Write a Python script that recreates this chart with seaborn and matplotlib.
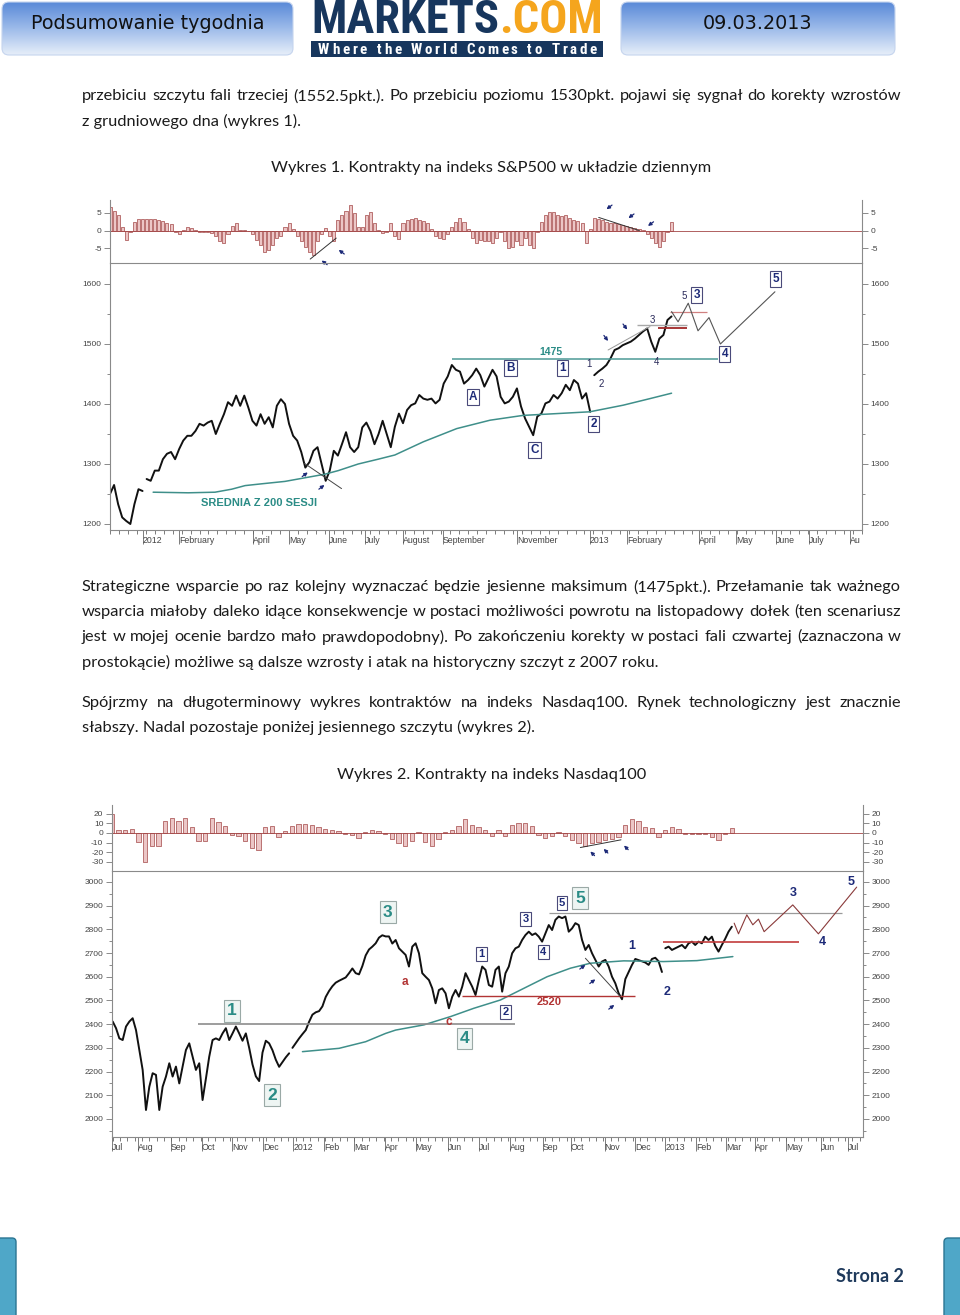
import numpy as np
import pandas as pd
import matplotlib
matplotlib.use('Agg')
import matplotlib.pyplot as plt
import seaborn as sns
from matplotlib.patches import FancyBboxPatch, Rectangle
from matplotlib.colors import LinearSegmentedColormap
from matplotlib.ticker import MultipleLocator
from matplotlib.transforms import ScaledTranslation

# ---------------- Wykres 1: S&P500 (dziennie, co ~2 sesje) ----------------
spx_close = [1250, 1265, 1233, 1211, 1205, 1200, 1233, 1258, 1255, 1275,
             1272, 1289, 1289, 1308, 1317, 1320, 1308, 1325, 1339, 1347,
             1347, 1355, 1367, 1364, 1369, 1372, 1350, 1367, 1383, 1403,
             1397, 1414, 1397, 1414, 1394, 1372, 1364, 1383, 1367, 1378,
             1361, 1397, 1408, 1400, 1367, 1347, 1339, 1320, 1294, 1303,
             1322, 1328, 1300, 1272, 1289, 1322, 1314, 1333, 1353, 1328,
             1320, 1328, 1361, 1369, 1355, 1333, 1350, 1372, 1350, 1328,
             1362, 1384, 1368, 1390, 1398, 1401, 1415, 1409, 1407, 1409,
             1401, 1407, 1434, 1446, 1465, 1457, 1454, 1434, 1440, 1448,
             1459, 1448, 1429, 1443, 1457, 1446, 1412, 1401, 1404, 1412,
             1426, 1396, 1376, 1362, 1348, 1379, 1384, 1401, 1404, 1415,
             1409, 1418, 1432, 1423, 1440, 1434, 1409, 1418, 1387, 1448,
             1454, 1459, 1465, 1476, 1490, 1493, 1498, 1501, 1504, 1509,
             1515, 1521, 1526, 1504, 1487, 1509, 1515, 1540, 1546]
spx_osc = [6.5, 5.5, 4.5, 1.0, -2.5, -0.5, 2.5, 3.2, 3.4, 3.4,
           3.3, 3.2, 3.0, 2.6, 2.2, 1.8, -0.4, -1.0, 0.3, 1.0,
           0.8, 0.1, -0.3, -0.5, -0.4, -0.8, -1.5, -3.0, -3.5, -1.0,
           1.2, 2.0, 0.3, 0.2, -0.2, -1.0, -2.5, -4.0, -6.0, -5.5,
           -4.0, -2.0, -1.5, 1.0, 2.2, 0.5, -1.5, -3.0, -4.5, -6.0,
           -6.8, -3.0, -1.0, 0.8, -1.5, -3.0, 3.0, 4.3, 5.5, 7.2,
           5.0, 1.0, 1.0, 4.5, 5.3, 2.0, 0.1, -0.6, -0.4, 2.0,
           -1.5, -2.4, 2.0, 3.0, 3.4, 3.5, 3.0, 2.8, 2.0, 0.5,
           -1.5, -2.0, -2.4, -1.0, 1.0, 2.5, 3.5, 2.5, 0.5, -2.0,
           -3.5, -2.5, -2.8, -3.0, -3.5, -2.0, -0.5, -3.0, -5.0, -4.5,
           -3.0, -4.0, -2.0, -4.0, -5.0, -0.5, 2.5, 4.5, 5.3, 5.3,
           4.5, 4.0, 4.3, 3.5, 3.0, 2.8, 2.0, -3.4, 0.5, 3.5,
           3.3, 3.0, 2.5, 2.2, 2.0, 1.8, 1.5, 1.3, 1.0, 0.8,
           0.5, 0.3, -1.0, -2.0, -3.5, -4.5, -3.0, -0.5, 2.5]
spx_gaps = [8, 118]
spx_ma_x = [10.6, 19.2, 25.8, 29.9, 33.2, 37.3, 43, 47.9, 52.8, 56.1, 61, 65.9,
            70, 77, 85.2, 93.4, 101.5, 109.8, 117.9, 126.1, 132.7, 138]
spx_ma = [1253, 1252, 1253, 1258, 1264, 1267, 1271, 1277, 1283, 1289, 1300, 1308,
          1315, 1337, 1359, 1373, 1381, 1384, 1387, 1398, 1409, 1418]
spx_months = ['2012', 'February', 'April', 'May', 'June', 'July', 'August', 'September',
              'November', '2013', 'February', 'April', 'May', 'June', 'July', 'Au']
spx_month_pos = [8.1, 17, 35.1, 44, 53.8, 62.7, 72, 81.8, 100, 117.9, 127, 144.7,
                 153.8, 163.6, 171.7, 181.8]
spx_proj_x = [138, 139.6, 142.1, 144.5, 147.2, 150, 163.4]
spx_proj = [1554, 1537, 1568, 1522, 1544, 1500, 1587]

# ---------------- Wykres 2: Nasdaq100 ----------------
ndx_close = [2411, 2383, 2340, 2333, 2390, 2411, 2425, 2375, 2291, 2207,
             2038, 2136, 2193, 2186, 2038, 2136, 2179, 2235, 2179, 2221,
             2150, 2221, 2291, 2319, 2263, 2207, 2235, 2080, 2170, 2263,
             2333, 2340, 2333, 2361, 2383, 2333, 2361, 2390, 2361, 2330,
             2361, 2300, 2230, 2180, 2160, 2280, 2330, 2319, 2290, 2250,
             2220, 2240, 2260, 2277, 2300, 2320, 2340, 2358, 2375, 2410,
             2440, 2450, 2455, 2475, 2515, 2540, 2560, 2575, 2583, 2590,
             2597, 2615, 2635, 2615, 2610, 2645, 2690, 2715, 2727, 2741,
             2765, 2775, 2770, 2770, 2740,
             2755, 2720, 2706, 2692, 2643, 2727, 2741, 2699, 2615, 2600,
             2586, 2551, 2488, 2544, 2551, 2530, 2467, 2516, 2544, 2516,
             2558, 2615, 2586, 2558, 2523, 2586, 2643, 2629, 2565, 2558,
             2629, 2643, 2537, 2615, 2643, 2699, 2720, 2727, 2755, 2776,
             2790, 2776, 2783, 2769, 2748, 2783, 2818, 2797, 2840, 2854,
             2847, 2854, 2790, 2804, 2826, 2818, 2755, 2713, 2734, 2699,
             2671, 2643, 2664, 2671, 2643, 2600, 2572, 2530, 2505, 2590,
             2620, 2650, 2675, 2670, 2665, 2660, 2650, 2675, 2680, 2665,
             2620, 2720, 2727, 2713, 2720, 2727, 2734, 2720, 2741, 2748,
             2734, 2748, 2741, 2769, 2755, 2769, 2730, 2706, 2734, 2760,
             2790, 2811]
ndx_osc = [20, 3, 3, 4, -9, -30, -14, -14, 12, 16,
           12, 15, 6, -8, -8, 15, 11, 7, -2, -3,
           -8, -16, -18, 6, 7, -4, 2, 7, 9, 9.5,
           8.5, 6, 4, 3, 2, -1, -2, -5, 1, 3,
           2, -1, -6, -11, -14, -8, 1, -9, -14, -6,
           1, 3, 7, 14, 8, 6, 3, -3, 3, -3,
           8, 10, 10, 7, -2, -5, -3, 1, -3, -7,
           -11, -14, -11, -9, -7, -6, -4, 8, 14, 12,
           6, 5, -4, 3, 6.5, 4, -1, -1.5, -1.5, -1,
           -4, -7, -1, 5]
ndx_gaps = [53, 165]
ndx_ma_x = [57, 68, 76, 82, 85, 93.5, 101.5, 108.5, 116.5, 123.5, 130.5, 137.5,
            143.5, 153.5, 165.5, 175.5, 186.3]
ndx_ma = [2284, 2298, 2326, 2361, 2375, 2397, 2432, 2467, 2502, 2551, 2600, 2636,
          2657, 2667, 2664, 2668, 2685]
ndx_months = ['Jul', 'Aug', 'Sep', 'Oct', 'Nov', 'Dec', '2012', 'Feb', 'Mar', 'Apr', 'May',
              'Jun', 'Jul', 'Aug', 'Sep', 'Oct', 'Nov', 'Dec', '2013', 'Feb', 'Mar', 'Apr',
              'May', 'Jun', 'Jul']
ndx_month_pos = [-0.3, 7.5, 17.5, 26.8, 35.8, 45.3, 54.2, 63.5, 72.5, 81.8, 91, 100.8,
                 110, 119.3, 129.3, 137.7, 147.8, 157, 166, 175.2, 184.2, 193, 202.3,
                 212.7, 221]
ndx_proj_x = [186.7, 188, 190.5, 192.3, 194, 195.7, 204.3, 212, 223.5]
ndx_proj = [2826, 2781, 2861, 2819, 2843, 2790, 2903, 2781, 2978]

# ---------------- tekst strony ----------------
para1 = [("przebiciu szczytu fali trzeciej (1552.5pkt.). Po przebiciu poziomu 1530pkt. "
          "pojawi się sygnał do korekty wzrostów", True),
         ("z grudniowego dna (wykres 1).", False)]
caption1 = "Wykres 1. Kontrakty na indeks S&P500 w układzie dziennym"
para2 = [("Strategiczne wsparcie po raz kolejny wyznaczać będzie jesienne maksimum (1475pkt.). "
          "Przełamanie tak ważnego", True),
         ("wsparcia miałoby daleko idące konsekwencje w postaci możliwości powrotu na "
          "listopadowy dołek (ten scenariusz", True),
         ("jest w mojej ocenie bardzo mało prawdopodobny). Po zakończeniu korekty w postaci "
          "fali czwartej (zaznaczona w", True),
         ("prostokącie) możliwe są dalsze wzrosty i atak na historyczny szczyt z 2007 roku.", False)]
para3 = [("Spójrzmy na długoterminowy wykres kontraktów na indeks Nasdaq100. Rynek "
          "technologiczny jest znacznie", True),
         ("słabszy. Nadal pozostaje poniżej jesiennego szczytu (wykres 2).", False)]
caption2 = "Wykres 2. Kontrakty na indeks Nasdaq100"

sns.set_theme(style='white')
plt.rcParams['font.family'] = ['Liberation Sans', 'DejaVu Sans']

W, H = 960, 1315
fig = plt.figure(figsize=(W / 100, H / 100), dpi=100)
page = fig.add_axes([0, 0, 1, 1], zorder=0)
page.set_xlim(0, W)
page.set_ylim(H, 0)
page.axis('off')
renderer = fig.canvas.get_renderer()

NAVY = '#1d2a78'
TEAL = '#2b8c86'
RED = '#b23434'
BODY = dict(fontsize=11.8, color='#1b1b1b', va='center', ha='left', family=['Lato', 'DejaVu Sans'])


def area(l, t, r, b):
    return [l / W, 1 - b / H, (r - l) / W, (b - t) / H]


def width_of(t):
    return t.get_window_extent(renderer=renderer).width


def fit_width(t, target):
    t.set_fontsize(t.get_fontsize() * target / width_of(t))


def spread(words, y, x0, x1, space=0.0, **kw):
    # rozklada elementy rowno miedzy x0 i x1; ' ' to stala przerwa `space`
    objs = [None if w == ' ' else page.text(0, y, w, **kw) for w in words]
    widths = [space if o is None else width_of(o) for o in objs]
    gap = (x1 - x0 - sum(widths)) / (len(words) - 1)
    x = x0
    for o, w in zip(objs, widths):
        if o is not None:
            o.set_x(x)
        x += w + gap


def grad_box(x0, y0, x1, y1):
    patch = FancyBboxPatch((x0, y0), x1 - x0, y1 - y0, boxstyle='round,pad=0,rounding_size=7',
                           fc='none', ec='#c5d4ee', lw=0.8, zorder=2)
    page.add_patch(patch)
    cmap = LinearSegmentedColormap.from_list('hdr', ['#5a8ad8', '#9dbbea', '#e6eef9'])
    im = page.imshow(np.linspace(0, 1, 64).reshape(-1, 1), extent=(x0, x1, y1, y0),
                     cmap=cmap, aspect='auto', zorder=1)
    im.set_clip_path(patch)


# ---- naglowek ----
grad_box(2, 2, 293, 55)
grad_box(621, 2, 895, 55)
page.set_xlim(0, W)
page.set_ylim(H, 0)
page.text(148, 23, 'Podsumowanie tygodnia', fontsize=13.8, color='#111', ha='center',
          va='center', family='DejaVu Sans', zorder=3)
page.text(758, 23, '09.03.2013', fontsize=13.8, color='#111', ha='center', va='center',
          family='DejaVu Sans', zorder=3)
logo_font = ['Roboto Condensed', 'DejaVu Sans Condensed', 'Liberation Sans Narrow',
             'Liberation Sans']
probe = page.text(0, -100, 'MARKETS.COM', fontsize=36, fontweight='bold', family=logo_font)
fit_width(probe, 292)
logo_fs = probe.get_fontsize()
probe.remove()
mk = page.text(311, 20, 'MARKETS', fontsize=logo_fs, fontweight='bold', color='#17365d',
               ha='left', va='center', family=logo_font, zorder=3)
page.text(311 + width_of(mk), 20, '.COM', fontsize=logo_fs, fontweight='bold',
          color='#f5a51d', ha='left', va='center', family=logo_font, zorder=3)
page.add_patch(Rectangle((311, 41), 292, 16, fc='#17365d', ec='none', zorder=2))
spread(list('Where the World Comes to Trade'), 49.5, 318, 597, space=4.0, fontsize=10.8,
       fontweight='bold', color='white', ha='left', va='center', family=logo_font, zorder=3)


# ---- tekst ----
def write_line(y, line, justify, x0=82, x1=901):
    if justify:
        spread(line.split(), y, x0, x1, **BODY)
    else:
        page.text(x0, y, line, **BODY)


for (line, just), y in zip(para1, [96, 121]):
    write_line(y, line, just)
page.text(491.5, 168, caption1, **{**BODY, 'ha': 'center'})
for (line, just), y in zip(para2, [587, 612, 637, 662]):
    write_line(y, line, just)
for (line, just), y in zip(para3, [703, 727]):
    write_line(y, line, just)
page.text(491.5, 775, caption2, **{**BODY, 'ha': 'center'})

# ---- stopka ----
for x0 in (-6, 944):
    page.add_patch(FancyBboxPatch((x0, 1238), 22, 90, boxstyle='round,pad=0,rounding_size=4',
                                  fc='#4fa7c8', ec='#2b7592', lw=1.0, zorder=2))
page.text(870, 1276, 'Strona 2', fontsize=13, fontweight='bold', color='#1f3a5c', ha='center',
          va='center', family=['Lato', 'DejaVu Sans'])


# ---- funkcje wykresow ----
def style_y(ax, ticks, minor):
    ax.set_yticks(ticks)
    ax.set_yticklabels([f'{t:g}' for t in ticks])
    if minor:
        ax.yaxis.set_minor_locator(MultipleLocator(minor))
    ax.tick_params(axis='y', which='both', direction='out', left=True, right=True,
                   labelleft=True, labelright=True, labelsize=6, labelcolor='#444',
                   color='#777', width=0.6, pad=2)
    ax.tick_params(axis='y', which='major', length=4)
    ax.tick_params(axis='y', which='minor', length=2)
    ax.set_ylabel('')
    for sp in ax.spines.values():
        sp.set_color('#8a8a8a')
        sp.set_linewidth(0.8)


def price_panel(ax, close, gaps, ma_x, ma, ylim, yticks, xmax, mpos, mlab):
    idx = np.arange(len(close))
    df = pd.DataFrame({'idx': idx, 'close': close, 'seg': np.searchsorted(gaps, idx)})
    sns.lineplot(data=df, x='idx', y='close', units='seg', estimator=None, color='#111111',
                 lw=1.4, ax=ax)
    sns.lineplot(x=ma_x, y=ma, color='#3f8f8a', lw=1.1, ax=ax)
    ax.set_xlim(0, xmax)
    ax.set_ylim(*ylim)
    style_y(ax, yticks, 50)
    ax.set_xticks(mpos)
    ax.set_xticklabels(mlab)
    shift = ScaledTranslation(1.5 / 72, 0, fig.dpi_scale_trans)
    for t in ax.get_xticklabels():
        t.set_ha('left')
        t.set_transform(t.get_transform() + shift)
    ax.xaxis.set_minor_locator(MultipleLocator(2.2))
    ax.tick_params(axis='x', which='both', direction='out', bottom=True, labelsize=6.3,
                   labelcolor='#444', color='#666', width=0.6)
    ax.tick_params(axis='x', which='major', length=10, pad=-6)
    ax.tick_params(axis='x', which='minor', length=3)
    ax.set_xlabel('')
    ax.patch.set_alpha(0)


def osc_panel(ax, x, vals, width, ylim, yticks, xmax):
    ax.bar(x, vals, width=width, color='#ecc6c6', edgecolor='#a34646', linewidth=0.5)
    ax.axhline(0, color='#a34646', lw=0.6)
    ax.set_xlim(0, xmax)
    ax.set_ylim(*ylim)
    ax.set_xticks([])
    style_y(ax, yticks, None)
    ax.spines['top'].set_visible(False)
    ax.spines['bottom'].set_visible(False)
    ax.patch.set_alpha(0)


def arrow(ax, x, y, dx, dy):
    ax.annotate('', xy=(x, y), xytext=(dx, dy), textcoords='offset points',
                arrowprops=dict(arrowstyle='-|>', color=NAVY, lw=0.9, mutation_scale=5,
                                shrinkA=0, shrinkB=0))


def boxed(ax, x, y, s, color=NAVY, size=8.5, fc='white', ec='#4a4a7a'):
    ax.text(x, y, s, color=color, fontsize=size, fontweight='bold', ha='center', va='center',
            bbox=dict(boxstyle='square,pad=0.18', fc=fc, ec=ec, lw=0.8))


# ---- wykres 1 ----
o1 = fig.add_axes(area(110, 200, 862, 263), zorder=2)
m1 = fig.add_axes(area(110, 263, 862, 530), zorder=2)
osc_panel(o1, np.arange(len(spx_osc)), spx_osc, 0.75, (-9.1, 8.6), [-5, 0, 5], 184.8)
price_panel(m1, spx_close, spx_gaps, spx_ma_x, spx_ma, (1190, 1635),
            [1200, 1300, 1400, 1500, 1600], 184.8, spx_month_pos, spx_months)

o1.plot([49.2, 55.6], [-8.0, -2.1], color='#333', lw=0.7)
o1.plot([120.1, 130.1], [3.7, 0.0], color='#333', lw=0.7)
arrow(o1, 52, -8.4, 4, -3)
arrow(o1, 56.2, -5.4, 4, -3)
for xa, ya in [(122, 6.0), (127.4, 3.5), (132.2, 1.3)]:
    arrow(o1, xa, ya, 4, 3)

m1.hlines(1475, 84, 149.4, color='#4d9a96', lw=1.1)
m1.text(108.4, 1487, '1475', color=TEAL, fontsize=7.5, fontweight='bold', ha='center', va='center')
m1.hlines(1532, 129.5, 141.8, color='#a8a8a8', lw=1.0)
m1.hlines(1526, 134.6, 141.8, color='#a02828', lw=1.3)
m1.hlines(1553, 137.6, 146.6, color='#d08080', lw=0.9)
m1.plot(spx_proj_x, spx_proj, color='#555', lw=0.8)
m1.plot([47.8, 56.9], [1301, 1259], color='#444', lw=0.7)
m1.plot([122.4, 132.7], [1490, 1529], color='#999', lw=0.7)
arrow(m1, 48.6, 1286, -4, -3)
arrow(m1, 52.7, 1265, -4, -3)
arrow(m1, 122.4, 1505, -3, 4)
arrow(m1, 127.1, 1524, -3, 4)
m1.text(36.6, 1235, 'SREDNIA Z 200 SESJI', color=TEAL, fontsize=8, fontweight='bold',
        ha='center', va='center')
for s, x, y in [('A', 89.2, 1412), ('B', 98.5, 1460), ('C', 104.4, 1323), ('1', 111.3, 1460),
                ('2', 118.9, 1367), ('3', 144.2, 1582), ('4', 151.1, 1483), ('5', 163.6, 1608)]:
    boxed(m1, x, y, s)
for s, x, y in [('1', 117.7, 1467), ('2', 120.6, 1433), ('3', 133.2, 1540), ('4', 134.4, 1470),
                ('5', 141, 1580)]:
    m1.text(x, y, s, color='#2a2a5a', fontsize=7, ha='center', va='center')

# ---- wykres 2 ----
o2 = fig.add_axes(area(111.7, 805, 863, 871), zorder=2)
m2 = fig.add_axes(area(111.7, 871, 863, 1137), zorder=2)
osc_panel(o2, np.arange(len(ndx_osc)) * 2, ndx_osc, 1.3, (-39.6, 29),
          [-30, -20, -10, 0, 10, 20], 225.4)
price_panel(m2, ndx_close, ndx_gaps, ndx_ma_x, ndx_ma, (1924, 3046),
            list(range(2000, 3001, 100)), 225.4, ndx_month_pos, ndx_months)

o2.plot([140.6, 152.8], [-15.2, -7.2], color='#333', lw=0.7)
for xa, ya in [(143.6, -19.3), (147.6, -16.6), (153.7, -13.1)]:
    arrow(o2, xa, ya, 3, -3)

m2.hlines(2400, 25.5, 121, color='#8c8c8c', lw=1.2)
m2.hlines(2519, 105, 157, color=RED, lw=1.0)
m2.text(131, 2495, '2520', color=RED, fontsize=8, fontweight='bold', ha='center', va='center')
m2.hlines(2868, 131, 219, color='#9a9a9a', lw=0.9)
m2.hlines(2745, 165.3, 206.3, color='#c23c3c', lw=1.2)
m2.plot(ndx_proj_x, ndx_proj, color='#8a3a3a', lw=0.8)
m2.plot([142, 152.5], [2678, 2516], color='#444', lw=0.7)
arrow(m2, 142, 2650, -4, -3)
arrow(m2, 145, 2589, -4, -3)
arrow(m2, 150.7, 2481, -4, -3)
for s, x, y in [('1', 35.8, 2456), ('2', 47.9, 2101), ('3', 82.6, 2873), ('4', 105.7, 2338),
                ('5', 140.5, 2932)]:
    boxed(m2, x, y, s, color=TEAL, size=12.5, fc='#eef5f3', ec='#9aa9a6')
for s, x, y in [('1', 110.8, 2696), ('2', 118, 2451), ('3', 124, 2844), ('4', 129.4, 2705),
                ('5', 134.9, 2911)]:
    boxed(m2, x, y, s, size=8)
for s, x, y in [('1', 155.9, 2730), ('2', 166.4, 2536), ('3', 204.4, 2954), ('4', 213.1, 2747),
                ('5', 221.8, 3000)]:
    m2.text(x, y, s, color=NAVY, fontsize=9, fontweight='bold', ha='center', va='center')
for s, x, y in [('a', 87.8, 2578), ('c', 101, 2409)]:
    m2.text(x, y, s, color=RED, fontsize=8.5, fontweight='bold', ha='center', va='center')

fig.savefig('out.png', dpi=100, facecolor='white')
